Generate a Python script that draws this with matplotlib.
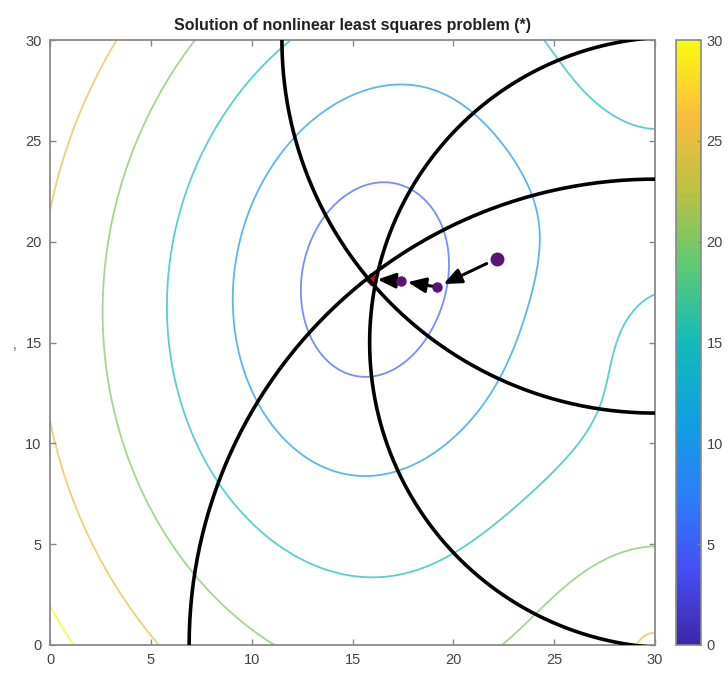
import numpy as np
import matplotlib
matplotlib.use("Agg")
import matplotlib.pyplot as plt
from matplotlib.colors import LinearSegmentedColormap, Normalize
from matplotlib.colorbar import ColorbarBase

plt.rcParams['font.family'] = ['Liberation Sans', 'DejaVu Sans']

# anchors (circle centres) and measured ranges
anchor_x = [30.0, 30.0, 31.0]
anchor_y = [0.0, 30.0, 15.0]
ranges = [23.1, 18.5, 15.15]

# Gauss-Newton iterates, last one is the solution
iter_x = [22.15, 19.2, 17.4, 15.9]
iter_y = [19.15, 17.75, 18.05, 18.15]

levels = [5, 10, 15, 20, 25, 30]
ticks = [0, 5, 10, 15, 20, 25, 30]

# rough copy of the old MATLAB parula map
parula = LinearSegmentedColormap.from_list("parula", [
    (0.000, (0.242, 0.150, 0.660)),
    (0.125, (0.272, 0.310, 0.960)),
    (0.250, (0.170, 0.500, 0.975)),
    (0.375, (0.060, 0.630, 0.880)),
    (0.500, (0.070, 0.730, 0.730)),
    (0.625, (0.360, 0.790, 0.460)),
    (0.750, (0.730, 0.760, 0.260)),
    (0.875, (0.985, 0.735, 0.240)),
    (1.000, (0.977, 0.983, 0.054)),
])
norm = Normalize(0, 30)

fig = plt.figure(figsize=(7.28, 6.75), dpi=100)
ax = fig.add_axes([50/728, 30/675, 605/728, 605/675])

# residual norm over the plane
gx, gy = np.meshgrid(np.linspace(0, 30, 401), np.linspace(0, 30, 401))
res = np.zeros_like(gx)
for cx, cy, r in zip(anchor_x, anchor_y, ranges):
    res += (np.hypot(gx - cx, gy - cy) - r) ** 2
res = np.sqrt(res)

ax.contour(gx, gy, res, levels=levels, cmap=parula, norm=norm,
           linewidths=1.3, alpha=0.7, zorder=1)

# solution point
ax.plot(iter_x[-1], iter_y[-1], marker='D', color='#e8101a', ms=6.5,
        mec='#b00010', zorder=2, ls='none')

# range circles
t = np.linspace(0, 2*np.pi, 720)
for cx, cy, r in zip(anchor_x, anchor_y, ranges):
    ax.plot(cx + r*np.cos(t), cy + r*np.sin(t), color='black', lw=2.6, zorder=3)

# steps
for i in range(len(iter_x) - 1):
    ax.annotate('', xy=(iter_x[i+1], iter_y[i+1]), xytext=(iter_x[i], iter_y[i]),
                arrowprops=dict(arrowstyle='-|>,head_length=0.9,head_width=0.38',
                                mutation_scale=12, color='black', lw=2.2,
                                shrinkA=8 if i == 0 else 0, shrinkB=5),
                zorder=4)

ax.plot(iter_x[0], iter_y[0], 'o', color='#5a1478', ms=9, zorder=5)
ax.plot(iter_x[1:-1], iter_y[1:-1], 'o', color='#5a1478', ms=6.5, zorder=5, ls='none')

ax.set_xlim(0, 30)
ax.set_ylim(0, 30)
ax.set_xticks(ticks)
ax.set_yticks(ticks)
ax.tick_params(direction='in', length=4, width=1, colors='#888888',
               labelcolor='#444444', labelsize=10.5, top=True, right=True, pad=6)
for s in ax.spines.values():
    s.set_color('#8a8a8a')
    s.set_linewidth(1.3)
ax.set_title('Solution of nonlinear least squares problem (*)',
             fontsize=11.5, fontweight='bold', color='#222222', pad=7)

# remains of the cropped y label
fig.text(15/728, 1 - 345/675, ',', fontsize=10, color='#555555', ha='center', va='center')

cax = fig.add_axes([676/728, 30/675, 25/728, 605/675])
cb = ColorbarBase(cax, cmap=parula, norm=norm, ticks=ticks)
cb.outline.set_edgecolor('#8a8a8a')
cb.outline.set_linewidth(1.2)
cax.tick_params(direction='in', length=3, colors='#888888',
                labelcolor='#444444', labelsize=10.5, pad=4)

fig.savefig('out.png', dpi=100)
